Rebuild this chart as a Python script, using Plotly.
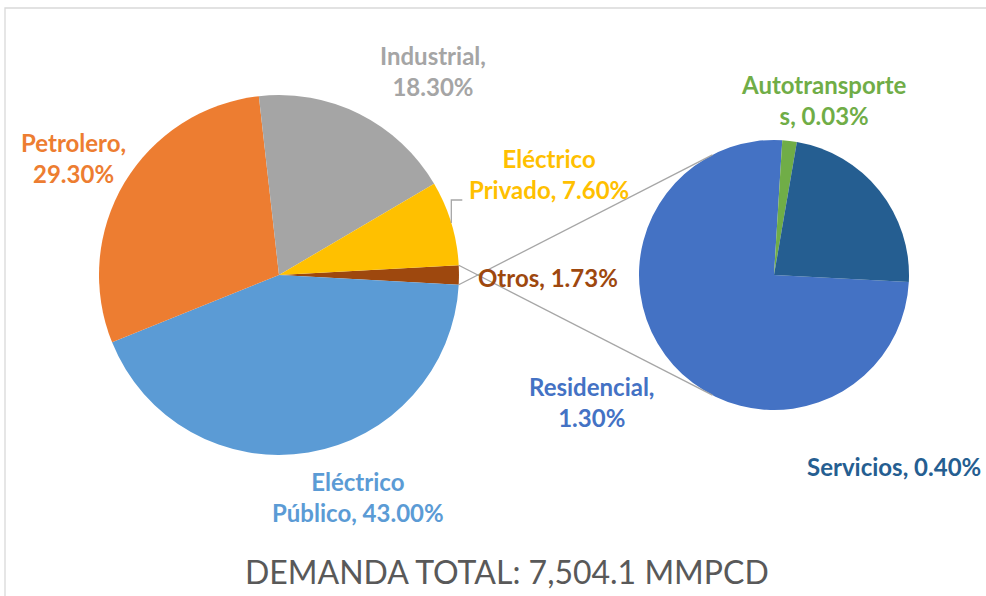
"""
Demanda de gas natural por sector (pie de pie)
"""
import math
import plotly.graph_objects as go

W, H = 986, 596

# Datos
main_labels = ["Otros", "Eléctrico Público", "Petrolero", "Industrial", "Eléctrico Privado"]
second_labels = ["Residencial", "Autotransportes", "Servicios"]
second_values = [1.30, 0.03, 0.40]
otros = round(sum(second_values), 2)
main_values = [otros, 43.00, 29.30, 18.30, 7.60]

main_colors = ["#9E480E", "#5B9BD5", "#ED7D31", "#A5A5A5", "#FFC000"]
second_colors = ["#4472C4", "#70AD47", "#255E91"]

title_text = "DEMANDA TOTAL: 7,504.1 MMPCD"

# Geometria (pixeles)
C1, R1 = (279, 275), 180
C2, R2 = (774, 275), 135
ROT2 = 93

total = sum(main_values)
rot1 = 90 - otros / total * 180


def fx(x):
    return x / W


def fy(y):
    return 1 - y / H


def domain(c, r):
    return dict(x=[fx(c[0] - r), fx(c[0] + r)], y=[fy(c[1] + r), fy(c[1] - r)])


def on_circle(c, r, ang):
    # angulo en grados, sentido horario desde las 12
    a = math.radians(ang)
    return c[0] + r * math.sin(a), c[1] - r * math.cos(a)


fig = go.Figure()

fig.add_trace(go.Pie(
    labels=main_labels, values=main_values, sort=False, direction="clockwise",
    rotation=rot1, domain=domain(C1, R1), marker=dict(colors=main_colors),
    textinfo="none", hoverinfo="label+value", showlegend=False
))
fig.add_trace(go.Pie(
    labels=second_labels, values=second_values, sort=False, direction="clockwise",
    rotation=ROT2, domain=domain(C2, R2), marker=dict(colors=second_colors),
    textinfo="none", hoverinfo="label+value", showlegend=False
))

shapes = []

# Lineas de conexion: bordes de "Otros" -> tangentes del segundo pie
for sign in (-1, 1):
    p = on_circle(C1, R1, 90 + sign * otros / total * 180)
    dx, dy = p[0] - C2[0], p[1] - C2[1]
    base = math.atan2(dy, dx)
    t = math.acos(R2 / math.hypot(dx, dy))
    q = (C2[0] + R2 * math.cos(base + sign * t), C2[1] + R2 * math.sin(base + sign * t))
    shapes.append(dict(type="line", xref="paper", yref="paper",
                       x0=fx(p[0]), y0=fy(p[1]), x1=fx(q[0]), y1=fy(q[1]),
                       line=dict(color="#A6A6A6", width=1.3)))

# Linea guia de Eléctrico Privado
acc = rot1 + sum(main_values[:4]) / total * 360
mid = acc + main_values[4] / total * 180
lp = on_circle(C1, R1, mid)
shapes.append(dict(type="path", xref="paper", yref="paper",
                   path=f"M {fx(lp[0])},{fy(lp[1])} L {fx(lp[0])},{fy(200)} L {fx(lp[0] + 11)},{fy(200)}",
                   line=dict(color="#A6A6A6", width=1.3)))

# Marco del grafico
shapes.append(dict(type="rect", xref="paper", yref="paper",
                   x0=fx(5), x1=1.02, y0=-0.02, y1=fy(8),
                   line=dict(color="#D9D9D9", width=1.3), fillcolor="rgba(0,0,0,0)"))

labels = [
    ("Industrial,<br>18.30%", 433, 71),
    ("Petrolero,<br>29.30%", 73, 158),
    ("Eléctrico<br>Privado, 7.60%", 549, 174),
    ("Otros, 1.73%", 548, 277),
    ("Autotransporte<br>s, 0.03%", 824, 100),
    ("Residencial,<br>1.30%", 592, 402),
    ("Eléctrico<br>Público, 43.00%", 358, 497),
]
label_colors = ["#A5A5A5", "#ED7D31", "#FFC000", "#9E480E", "#70AD47", "#4472C4", "#5B9BD5"]

annotations = []
for (text, x, y), color in zip(labels, label_colors):
    annotations.append(dict(text=f"<b>{text}</b>", x=fx(x), y=fy(y), xref="paper", yref="paper",
                            showarrow=False, align="center", xanchor="center", yanchor="middle",
                            font=dict(family="Lato", size=24, color=color)))
# en el original queda pegado al borde derecho
annotations.append(dict(text="<b>Servicios, 0.40%</b>", x=fx(983), y=fy(467), xref="paper", yref="paper",
                        showarrow=False, xanchor="right", yanchor="middle",
                        font=dict(family="Lato", size=24, color="#255E91")))
annotations.append(dict(text=title_text, x=fx(507), y=fy(571), xref="paper", yref="paper",
                        showarrow=False, xanchor="center", yanchor="middle",
                        font=dict(family="Lato", size=32, color="#595959")))

fig.update_layout(
    width=W, height=H,
    margin=dict(l=0, r=0, t=0, b=0),
    paper_bgcolor="white",
    plot_bgcolor="white",
    shapes=shapes,
    annotations=annotations,
)

# sin margen del body para que el grafico ocupe toda la ventana
fig.write_html("out.html", config={"displayModeBar": False},
               post_script="document.body.style.margin='0';")
